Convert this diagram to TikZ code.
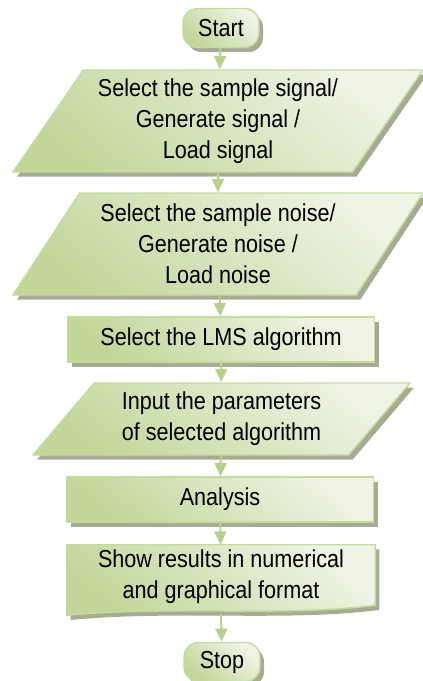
\documentclass[tikz,border=0pt]{standalone}
\usepackage{fontspec}
\setmainfont{Liberation Sans}[FakeStretch=0.88]
\usetikzlibrary{shapes.geometric,shadows,arrows.meta,backgrounds}

\definecolor{boxdark}{HTML}{C2D699}
\definecolor{boxlight}{HTML}{F0F4E6}
\definecolor{boxline}{HTML}{C6DAA0}
\definecolor{shadowgray}{HTML}{A5AC92}
\definecolor{flowline}{HTML}{B9CF8D}

\tikzset{
  box/.style={draw=boxline, line width=1.1pt, top color=boxlight, bottom color=boxdark,
    shading angle=-40, align=center, inner sep=2pt,
    drop shadow={shadow xshift=3pt, shadow yshift=-3.5pt, fill=shadowgray, opacity=1}},
  term/.style={box, rounded corners=11pt, minimum width=57pt, minimum height=29.25pt},
  proc/.style={box, minimum width=230.25pt, minimum height=33.75pt},
  data/.style={box, trapezium, trapezium stretches body},
  flow/.style={draw=flowline, line width=1.5pt, -{Triangle[width=9pt,length=10pt]}}
}

\begin{document}
\begin{tikzpicture}[x=0.75pt, y=-0.75pt, font=\fontsize{18.4}{23.25}\selectfont]
\useasboundingbox (0,0) rectangle (422,681);

\node[term] (start) at (221,28) {Start};
\node[data, trapezium left angle=52, trapezium right angle=128,
  minimum width=307.5pt, minimum height=76.5pt] (signal) at (218,121)
  {Select the sample signal/\\Generate signal /\\Load signal};
\node[data, trapezium left angle=52, trapezium right angle=128,
  minimum width=307.5pt, minimum height=76.5pt] (noise) at (218,244)
  {Select the sample noise/\\Generate noise /\\Load noise};
\node[proc] (lms) at (221,339.5) {Select the LMS algorithm};
\node[data, trapezium left angle=44, trapezium right angle=136,
  minimum width=282.75pt, minimum height=54pt] (param) at (221.5,419)
  {Input the parameters\\of selected algorithm};
\node[proc] (ana) at (220,499.5) {Analysis};

% document symbol, wavy bottom drawn behind the text
\node[align=center, minimum width=231pt, minimum height=48pt] (res) at (221,577)
  {Show results in numerical\\and graphical format};
\begin{scope}[on background layer]
\path[box]
  (res.north west) -- (res.north east) -- ([yshift=3pt]res.south east)
  .. controls ([xshift=-70pt,yshift=-6pt]res.south east) and ([xshift=80pt,yshift=3pt]res.south west)
  .. ([yshift=-4.5pt]res.south west) -- cycle;
\end{scope}

\node[term] (stop) at (222,662) {Stop};

\draw[flow] (start) -- (signal);
\draw[flow] (signal) -- (noise);
\draw[flow] (noise) -- (lms);
\draw[flow] (lms) -- (param);
\draw[flow] (param) -- (ana);
\draw[flow] (ana) -- (res);
\draw[flow] ([yshift=-3pt]res.south) -- (stop);

\end{tikzpicture}
\end{document}
